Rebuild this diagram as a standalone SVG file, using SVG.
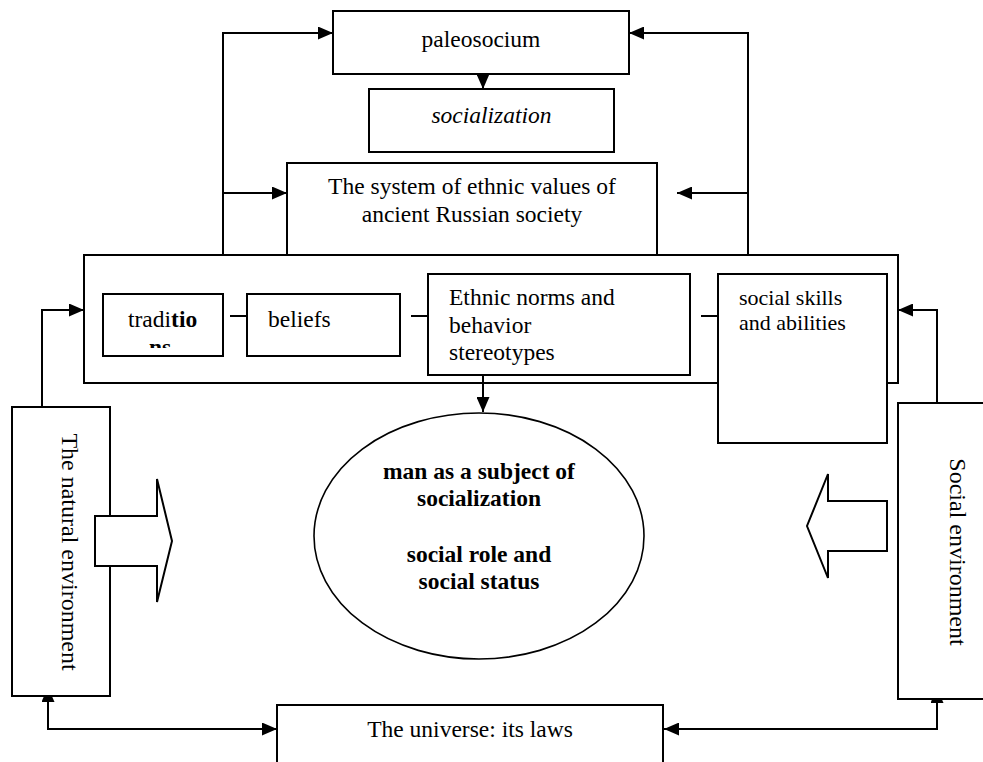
<svg xmlns="http://www.w3.org/2000/svg" width="983" height="762" viewBox="0 0 983 762">
<style>
.box{fill:#fff;stroke:#000;stroke-width:2}
.ln{fill:none;stroke:#000;stroke-width:2}
.t{font-family:"Liberation Serif","Times New Roman",serif;font-size:23.5px;fill:#000}
.m{text-anchor:middle}
.b{font-weight:bold}
.i{font-style:italic}
</style>
<defs>
<marker id="ah" viewBox="0 0 15 13" refX="15" refY="6.5" markerWidth="15" markerHeight="13" markerUnits="userSpaceOnUse" orient="auto-start-reverse">
<path d="M0,0 L15,6.5 L0,13 Z" fill="#000"/>
</marker>
<clipPath id="tradClip"><rect x="100" y="290" width="126" height="58"/></clipPath>
</defs>
<rect width="983" height="762" fill="#fff"/>

<g id="connectors">
<path class="ln" d="M223,255 V33 H333" marker-end="url(#ah)"/>
<path class="ln" d="M223,193 H287" marker-end="url(#ah)"/>
<path class="ln" d="M748,255 V33 H629" marker-end="url(#ah)"/>
<path class="ln" d="M748,193 H677" marker-end="url(#ah)"/>
<path class="ln" d="M483,74 V89" marker-end="url(#ah)"/>
<path class="ln" d="M42,407 V310 H84" marker-end="url(#ah)"/>
<path class="ln" d="M937,403 V310 H898" marker-end="url(#ah)"/>
<path class="ln" d="M48,687 V729 H277" marker-start="url(#ah)" marker-end="url(#ah)"/>
<path class="ln" d="M937,688 V729 H664" marker-start="url(#ah)" marker-end="url(#ah)"/>
</g>

<g id="paleosocium">
<rect class="box" x="333" y="11" width="296" height="63"/>
<text class="t m" x="481" y="47">paleosocium</text>
</g>

<g id="socialization">
<rect class="box" x="369" y="89" width="245" height="63"/>
<text class="t m i" x="491.5" y="123">socialization</text>
</g>

<g id="ethnic-values">
<rect class="box" x="287" y="163" width="370" height="92"/>
<text class="t m" x="472" y="194">The system of ethnic values of</text>
<text class="t m" x="472" y="222">ancient Russian society</text>
</g>

<g id="container">
<rect class="box" x="84" y="255" width="814" height="128"/>
</g>

<g id="inner-links">
<path class="ln" d="M230,316 H247 M411,316 H428 M701,316 H718"/>
</g>

<g id="traditions">
<rect class="box" x="103" y="294" width="120" height="62"/>
<g clip-path="url(#tradClip)">
<text class="t" x="128" y="327">tradi<tspan class="b">tio</tspan></text>
<text class="t b" x="149" y="355">ns</text>
</g>
</g>

<g id="beliefs">
<rect class="box" x="247" y="294" width="153" height="62"/>
<text class="t" x="268" y="327">beliefs</text>
</g>

<g id="ethnic-norms">
<rect class="box" x="428" y="274" width="262" height="101"/>
<text class="t" x="449" y="305">Ethnic norms and</text>
<text class="t" x="449" y="333">behavior</text>
<text class="t" x="449" y="360">stereotypes</text>
</g>

<g id="social-skills">
<rect class="box" x="718" y="274" width="169" height="169"/>
<text class="t" x="739" y="305" style="font-size:22px">social skills</text>
<text class="t" x="739" y="330" style="font-size:22px">and abilities</text>
</g>

<g id="arrow-to-man">
<path class="ln" d="M483,375 V412" marker-end="url(#ah)"/>
</g>

<g id="man">
<ellipse cx="479" cy="536" rx="165" ry="123" fill="#fff" stroke="#000" stroke-width="1.6"/>
<text class="t m b" x="479" y="479">man as a subject of</text>
<text class="t m b" x="479" y="506">socialization</text>
<text class="t m b" x="479" y="562">social role and</text>
<text class="t m b" x="479" y="589">social status</text>
</g>

<g id="natural-environment">
<rect class="box" x="12" y="407" width="98" height="289"/>
<text class="t m" transform="translate(62,552) rotate(90)" style="font-size:24px">The natural environment</text>
</g>

<g id="social-environment">
<rect class="box" x="898" y="403" width="95" height="296"/>
<text class="t m" transform="translate(950,552) rotate(90)" style="font-size:24px">Social environment</text>
</g>

<g id="block-arrow-left">
<polygon class="box" points="95,516 157,516 157,479 172,541 157,602 157,566 95,566"/>
</g>

<g id="block-arrow-right">
<polygon class="box" points="887,501 828,501 828,474 807,526 828,578 828,551 887,551"/>
</g>

<g id="universe">
<rect class="box" x="277" y="705" width="386" height="70"/>
<text class="t m" x="470" y="737">The universe: its laws</text>
</g>
</svg>
